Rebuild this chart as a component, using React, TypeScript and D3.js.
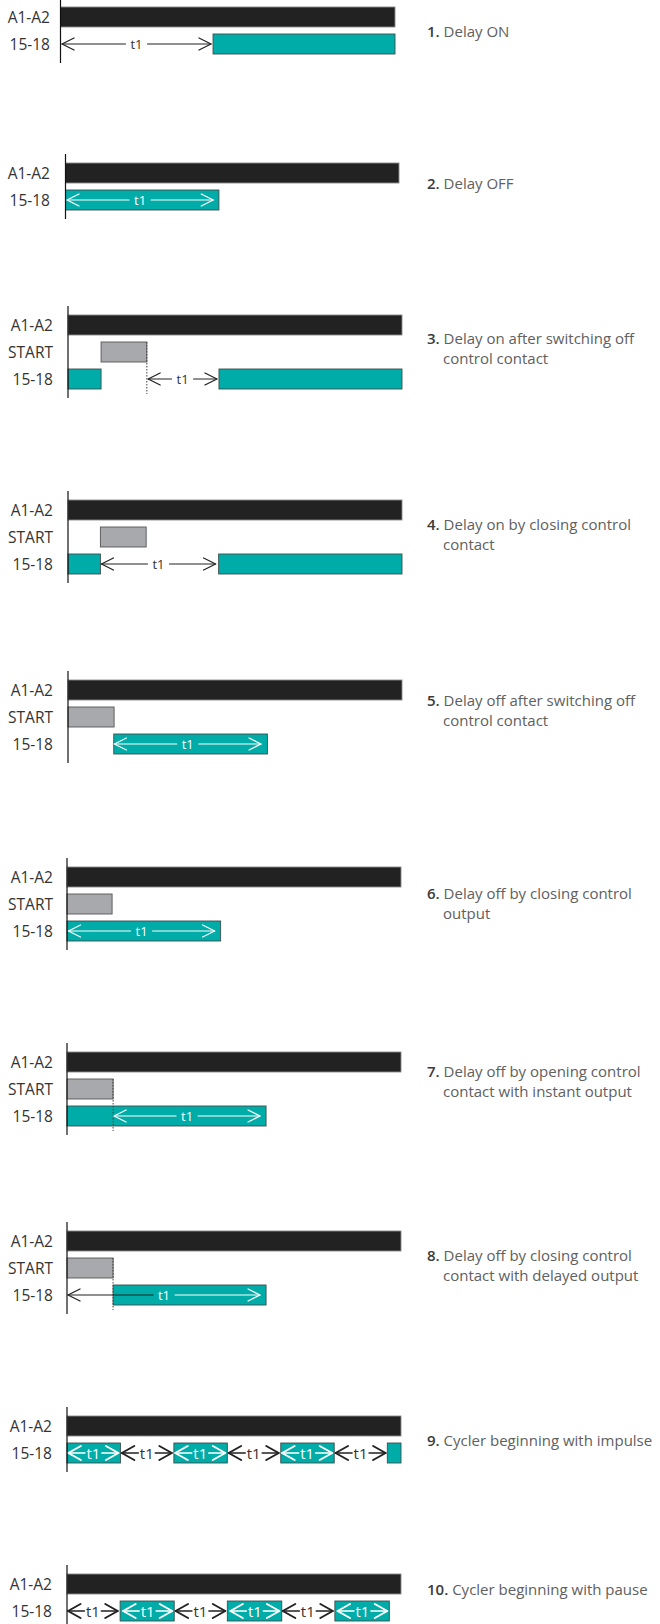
import React from "react";
import * as d3 from "d3";

// ---- data ----
const signalNames = ["A1-A2", "START", "15-18"];
const descNumbers = ["1.", "2.", "3.", "4.", "5.", "6.", "7.", "8.", "9.", "10."];
const descLines: string[][] = [
  ["Delay ON"],
  ["Delay OFF"],
  ["Delay on after switching off", "control contact"],
  ["Delay on by closing control", "contact"],
  ["Delay off after switching off", "control contact"],
  ["Delay off by closing control", "output"],
  ["Delay off by opening control", "contact with instant output"],
  ["Delay off by closing control", "contact with delayed output"],
  ["Cycler beginning with impulse"],
  ["Cycler beginning with pause"],
];
// time in % of the diagram width
const supplyOn: [number, number][][] = [
  [[0, 100]], [[0, 100]], [[0, 100]], [[0, 100]], [[0, 100]],
  [[0, 100]], [[0, 100]], [[0, 100]], [[0, 100]], [[0, 100]],
];
const startOn: ([number, number][] | null)[] = [
  null,
  null,
  [[9.9, 23.6]],
  [[9.7, 23.4]],
  [[0, 13.8]],
  [[0, 13.5]],
  [[0, 13.8]],
  [[0, 13.8]],
  null,
  null,
];
const outputOn: [number, number][][] = [
  [[45.6, 100]],
  [[0, 46.0]],
  [[0, 9.9], [45.2, 100]],
  [[0, 9.7], [45.1, 100]],
  [[13.7, 59.7]],
  [[0, 46.0]],
  [[0, 59.6]],
  [[13.8, 59.6]],
  [[0, 16], [32, 48], [64, 80], [95.9, 100]],
  [[15.9, 32.1], [48, 64.3], [80.2, 96.5]],
];
const t1Spans: [number, number][][] = [
  [[0.45, 45.0]],
  [[0.45, 44.3]],
  [[24.0, 44.6]],
  [[10.0, 44.2]],
  [[13.9, 57.8]],
  [[0.45, 44.2]],
  [[14.1, 57.8]],
  [[0.3, 57.8]],
  [[0.4, 15.4], [16.4, 31.4], [32.4, 47.4], [48.4, 63.4], [64.4, 79.4], [80.4, 95.4]],
  [[0.3, 15.2], [16.8, 31.5], [32.5, 47.4], [48.9, 63.6], [64.6, 79.6], [81.0, 95.9]],
];
const markers: (number | null)[] = [null, null, 23.6, null, null, null, 13.8, 13.8, null, null];
const timeLabel = "t1";

// ---- layout ----
const W = 660;
const H = 1624;
const panelTop = [7, 163, 315, 500, 680, 867, 1052, 1231, 1416, 1574];
const panelAxisX = [60.5, 65.5, 68, 68, 68, 67, 67, 67, 67, 67];
const panelRight = [395, 399, 402, 402, 402, 401, 401, 401, 401, 401];
const labelRight = [50, 50, 53, 53, 53, 53, 53, 53, 52, 52];
const descBaseline = [37, 189, 344, 530, 706, 899, 1077, 1261, 1446, 1595];
const isCycler = [false, false, false, false, false, false, false, false, true, true];
const rowStep = 27;
const barH = 20;
const descX = 427;
const descIndentX = 443;

const FONT = "'Open Sans', 'Noto Sans', sans-serif";
const C_BLACK = "#222222";
const C_CYAN = "#00aca7";
const C_GREY = "#a8a9ac";

function inside(v: number, ivs: [number, number][]) {
  return ivs.some(([a, b]) => v >= a && v <= b);
}

function Panel({ i }: { i: number }) {
  const x = d3.scaleLinear().domain([0, 100]).range([panelAxisX[i], panelRight[i]]);
  const start = startOn[i];
  const rows: { name: string; ivs: [number, number][]; fill: string; stroke: string }[] = [
    { name: signalNames[0], ivs: supplyOn[i], fill: C_BLACK, stroke: "#8a8a8a" },
  ];
  if (start) rows.push({ name: signalNames[1], ivs: start, fill: C_GREY, stroke: "#555" });
  rows.push({ name: signalNames[2], ivs: outputOn[i], fill: C_CYAN, stroke: "#3d4f4f" });

  const y = d3
    .scaleBand<number>()
    .domain(d3.range(rows.length))
    .range([panelTop[i], panelTop[i] + rows.length * rowStep - (rowStep - barH)])
    .paddingInner((rowStep - barH) / rowStep)
    .paddingOuter(0);
  const bw = y.bandwidth();
  const outRow = rows.length - 1;
  const outY = (y(outRow) as number) + bw / 2;
  const axisTop = panelTop[i] - 9;
  const axisBottom = (y(outRow) as number) + bw + 9;
  const cyc = isCycler[i];
  const headW = cyc ? 12.5 : 12;
  const headH = cyc ? 7 : 6;
  const sw = cyc ? 2 : 1.3;
  const gap = cyc ? 8.5 : 11;
  const outIvs = outputOn[i];
  const startRowY = start ? (y(1) as number) : 0;

  return (
    <g>
      {rows.map((r, ri) => (
        <text
          key={"l" + ri}
          x={labelRight[i]}
          y={(y(ri) as number) + bw / 2}
          textAnchor="end"
          dominantBaseline="central"
          fontFamily={FONT}
          fontSize={15.5}
          fill="#333"
        >
          {r.name}
        </text>
      ))}
      {rows.map((r, ri) =>
        r.ivs.map(([a, b], k) => (
          <rect
            key={"b" + ri + "-" + k}
            x={x(a)}
            y={y(ri) as number}
            width={x(b) - x(a)}
            height={bw}
            fill={r.fill}
            stroke={r.stroke}
            strokeWidth={0.9}
          />
        ))
      )}
      {markers[i] !== null && (
        <line
          x1={x(markers[i] as number)}
          x2={x(markers[i] as number)}
          y1={startRowY}
          y2={axisBottom - 4}
          stroke="#444"
          strokeWidth={1}
          strokeDasharray="1.5,1.5"
        />
      )}
      {t1Spans[i].map(([a, b], k) => {
        const xa = x(a);
        const xb = x(b);
        const mid = (xa + xb) / 2;
        const midT = (a + b) / 2;
        const cL = inside(a, outIvs) ? "#ffffff" : "#222";
        const cR = inside(b, outIvs) ? "#ffffff" : "#222";
        const cT = inside(midT, outIvs) ? "#ffffff" : "#333";
        return (
          <g key={"a" + k} fill="none" strokeLinecap="round" strokeLinejoin="round">
            <line x1={xa} x2={mid - gap} y1={outY} y2={outY} stroke={cL} strokeWidth={cyc ? 1.6 : 1.1} />
            <line x1={mid + gap} x2={xb} y1={outY} y2={outY} stroke={cR} strokeWidth={cyc ? 1.6 : 1.1} />
            <path
              d={`M${xa + headW},${outY - headH}L${xa},${outY}L${xa + headW},${outY + headH}`}
              stroke={cL}
              strokeWidth={sw}
            />
            <path
              d={`M${xb - headW},${outY - headH}L${xb},${outY}L${xb - headW},${outY + headH}`}
              stroke={cR}
              strokeWidth={sw}
            />
            <text
              x={mid}
              y={outY}
              textAnchor="middle"
              dominantBaseline="central"
              fontFamily={FONT}
              fontSize={cyc ? 15 : 13}
              fill={cT}
              stroke="none"
            >
              {timeLabel}
            </text>
          </g>
        );
      })}
      <line
        x1={panelAxisX[i]}
        x2={panelAxisX[i]}
        y1={axisTop}
        y2={axisBottom}
        stroke="#111"
        strokeWidth={1.2}
      />
      <text fontFamily={FONT} fontSize={15} fill="#606060">
        {descLines[i].map((ln, li) =>
          li === 0 ? (
            <tspan key={li} x={descX} y={descBaseline[i]}>
              <tspan fontWeight={600} fill="#3a3a3a">
                {descNumbers[i]}
              </tspan>
              {" " + ln}
            </tspan>
          ) : (
            <tspan key={li} x={descIndentX} y={descBaseline[i] + li * 19.5}>
              {ln}
            </tspan>
          )
        )}
      </text>
    </g>
  );
}

export default function App() {
  return (
    <svg
      width={W}
      height={H}
      viewBox={`0 0 ${W} ${H}`}
      style={{ position: "absolute", left: 0, top: 0, background: "#fff" }}
    >
      <rect x={0} y={0} width={W} height={H} fill="#fff" />
      {panelTop.map((_, i) => (
        <Panel key={i} i={i} />
      ))}
    </svg>
  );
}
